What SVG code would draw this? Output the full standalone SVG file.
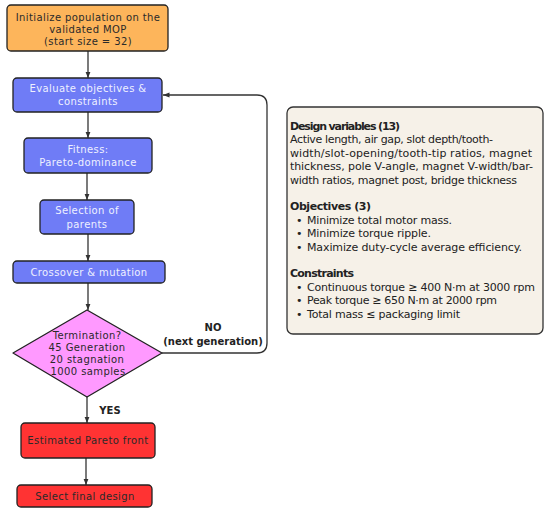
<svg xmlns="http://www.w3.org/2000/svg" width="550" height="516" viewBox="0 0 550 516">
<style>
.box{stroke:#222;stroke-width:1.3}
.t{font-family:"DejaVu Sans","Liberation Sans",sans-serif;font-size:10px;text-anchor:middle;letter-spacing:0.4px}
.dark{fill:#2a2a2a}
.light{fill:#eef0ff}
.c{stroke:#333;stroke-width:1.3;fill:none}
.lbl{font-family:"DejaVu Sans","Liberation Sans",sans-serif;font-size:10px;font-weight:bold;fill:#222;text-anchor:middle}
.r{font-family:"DejaVu Sans","Liberation Sans",sans-serif;font-size:11px;fill:#222}
.rb{font-weight:bold}
</style>
<defs>
<marker id="ah" viewBox="0 0 10 10" refX="10" refY="5" markerWidth="5" markerHeight="5" orient="auto">
<path d="M0,1 L10,5 L0,9 z" fill="#333"/>
</marker>
</defs>
<rect width="550" height="516" fill="#fff"/>
<g id="connectors">
<line class="c" x1="88" y1="51" x2="88" y2="78" marker-end="url(#ah)"/>
<line class="c" x1="88" y1="112" x2="88" y2="138" marker-end="url(#ah)"/>
<line class="c" x1="87" y1="173" x2="87" y2="200" marker-end="url(#ah)"/>
<line class="c" x1="88" y1="234" x2="88" y2="261" marker-end="url(#ah)"/>
<line class="c" x1="88" y1="283" x2="88" y2="310" marker-end="url(#ah)"/>
<line class="c" x1="87" y1="397" x2="87" y2="423" marker-end="url(#ah)"/>
<line class="c" x1="86" y1="458" x2="86" y2="485" marker-end="url(#ah)"/>
<path class="c" d="M162,353 H257 Q267,353 267,343 V105 Q267,95 257,95 H163" marker-end="url(#ah)"/>
<text class="lbl" x="213" y="331">NO</text>
<text class="lbl" x="213" y="345">(next generation)</text>
<text class="lbl" x="110" y="414">YES</text>
</g>
<g id="init">
<rect class="box" x="7" y="5" width="161" height="46" rx="4" fill="#fdb55b"/>
<text class="t dark" x="88" y="21">Initialize population on the</text>
<text class="t dark" x="88" y="33">validated MOP</text>
<text class="t dark" x="88" y="45">(start size = 32)</text>
</g>
<g id="evaluate">
<rect class="box" x="13" y="78" width="149" height="34" rx="4" fill="#6f7cf6"/>
<text class="t light" x="88" y="92">Evaluate objectives &amp;</text>
<text class="t light" x="88" y="105">constraints</text>
</g>
<g id="fitness">
<rect class="box" x="24" y="138" width="128" height="35" rx="4" fill="#6f7cf6"/>
<text class="t light" x="88" y="153">Fitness:</text>
<text class="t light" x="88" y="166">Pareto-dominance</text>
</g>
<g id="selection">
<rect class="box" x="40" y="200" width="94" height="34" rx="4" fill="#6f7cf6"/>
<text class="t light" x="87" y="214">Selection of</text>
<text class="t light" x="87" y="228">parents</text>
</g>
<g id="crossover">
<rect class="box" x="13" y="261" width="152" height="22" rx="4" fill="#6f7cf6"/>
<text class="t light" x="89" y="275.5">Crossover &amp; mutation</text>
</g>
<g id="termination">
<polygon class="box" points="87,310 162,353 87,397 13,353" fill="#ff99ff" stroke-linejoin="round"/>
<text class="t dark" x="87" y="339">Termination?</text>
<text class="t dark" x="87" y="351">45 Generation</text>
<text class="t dark" x="87" y="363">20 stagnation</text>
<text class="t dark" x="88" y="375">1000 samples</text>
</g>
<g id="pareto">
<rect class="box" x="21" y="423" width="134" height="35" rx="4" fill="#ff3333"/>
<text class="t dark" x="88" y="444">Estimated Pareto front</text>
</g>
<g id="final">
<rect class="box" x="17" y="485" width="135" height="22" rx="4" fill="#ff3333"/>
<text class="t dark" x="85" y="499.5">Select final design</text>
</g>
<g id="info">
<rect x="287" y="107" width="256" height="227" rx="6" fill="#f6f1e8" stroke="#333" stroke-width="1.3"/>
<text class="r rb" x="290" y="130" textLength="110" lengthAdjust="spacing">Design variables (13)</text>
<text class="r" x="290" y="143.4" textLength="203" lengthAdjust="spacing">Active length, air gap, slot depth/tooth-</text>
<text class="r" x="290" y="156.8" textLength="242" lengthAdjust="spacing">width/slot-opening/tooth-tip ratios, magnet</text>
<text class="r" x="290" y="170.2" textLength="243" lengthAdjust="spacing">thickness, pole V-angle, magnet V-width/bar-</text>
<text class="r" x="290" y="183.6" textLength="227" lengthAdjust="spacing">width ratios, magnet post, bridge thickness</text>
<text class="r rb" x="290" y="210.4" textLength="81" lengthAdjust="spacing">Objectives (3)</text>
<text class="r" x="296" y="223.8">•</text><text class="r" x="307" y="223.8" textLength="145" lengthAdjust="spacing">Minimize total motor mass.</text>
<text class="r" x="296" y="237.2">•</text><text class="r" x="307" y="237.2" textLength="124" lengthAdjust="spacing">Minimize torque ripple.</text>
<text class="r" x="296" y="250.6">•</text><text class="r" x="307" y="250.6" textLength="215" lengthAdjust="spacing">Maximize duty-cycle average efficiency.</text>
<text class="r rb" x="290" y="277.4" textLength="64" lengthAdjust="spacing">Constraints</text>
<text class="r" x="296" y="290.8">•</text><text class="r" x="307" y="290.8" textLength="228" lengthAdjust="spacing">Continuous torque ≥ 400 N·m at 3000 rpm</text>
<text class="r" x="296" y="304.2">•</text><text class="r" x="307" y="304.2" textLength="190" lengthAdjust="spacing">Peak torque ≥ 650 N·m at 2000 rpm</text>
<text class="r" x="296" y="317.6">•</text><text class="r" x="307" y="317.6" textLength="153" lengthAdjust="spacing">Total mass ≤ packaging limit</text>
</g>
</svg>
